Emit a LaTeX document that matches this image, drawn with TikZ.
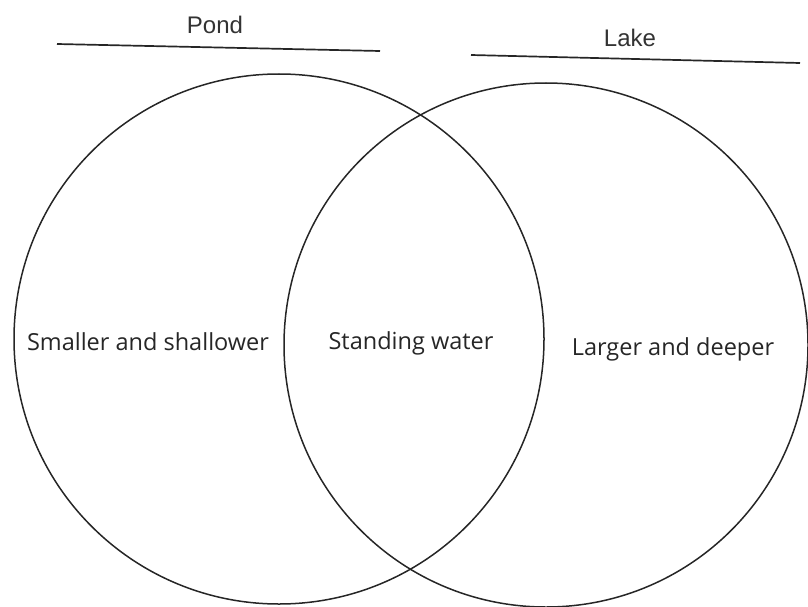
\documentclass[tikz,border=0pt]{standalone}
\usepackage{fontspec}
\setmainfont{Open Sans}
\newfontfamily\labelfont{Liberation Sans}
\begin{document}
\begin{tikzpicture}[x=1pt,y=-1pt,
  ring/.style={draw=black!85,line width=1.5pt},
  rule/.style={draw=black!85,line width=1.7pt},
  region/.style={font=\fontsize{23.5}{26}\selectfont,text=black!85},
  heading/.style={font=\labelfont\fontsize{24}{26}\selectfont,text=black!80,anchor=base}]
\useasboundingbox (0,0) rectangle (808,607);
\node[ring,circle,minimum size=530pt,inner sep=0pt] (pond) at (279,339) {};
\node[ring,circle,minimum size=524pt,inner sep=0pt] (lake) at (546,345) {};
\coordinate (p1) at (57,44);
\coordinate (p2) at (380,51);
\coordinate (l1) at (471,55);
\coordinate (l2) at (800,63);
\draw[rule] (p1) -- (p2);
\draw[rule] (l1) -- (l2);
\node[heading] (pondlabel) at (215,34) {Pond};
\node[heading] (lakelabel) at (630,47) {Lake};
\node[region] (left) at (148,342) {Smaller and shallower};
\node[region] (mid) at (411,343) {Standing water};
\node[region] (right) at (673,349) {Larger and deeper};
\end{tikzpicture}
\end{document}
